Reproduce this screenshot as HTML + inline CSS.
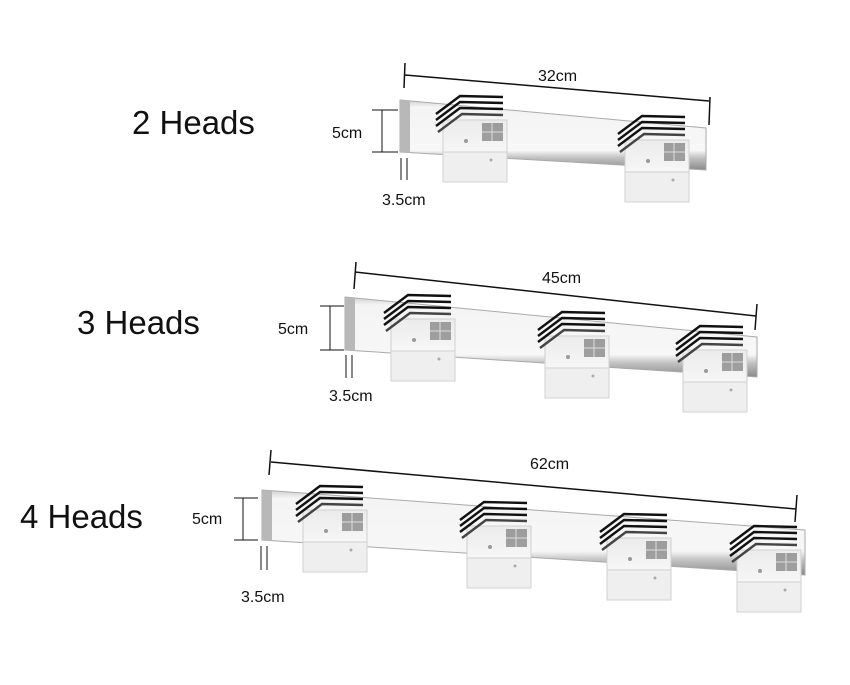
<!DOCTYPE html>
<html><head><meta charset="utf-8"><style>
html,body{margin:0;padding:0;background:#fff;}
svg text{font-family:"Liberation Sans",Arial,sans-serif;fill:#111;}
</style></head><body>
<svg width="850" height="680" viewBox="0 0 850 680" xmlns="http://www.w3.org/2000/svg">
<defs>
<linearGradient id="bar" x1="0" y1="0" x2="0" y2="1">
<stop offset="0" stop-color="#cfcfcf"/><stop offset="0.1" stop-color="#f4f4f4"/><stop offset="0.72" stop-color="#f7f7f7"/><stop offset="0.82" stop-color="#c4c4c4"/><stop offset="1" stop-color="#8a8a8a"/>
</linearGradient>
<linearGradient id="glass" x1="0" y1="0" x2="0" y2="1">
<stop offset="0" stop-color="#ebebeb"/><stop offset="0.5" stop-color="#f6f6f6"/><stop offset="1" stop-color="#e2e2e2"/>
</linearGradient>
<g id="head">
<rect x="7" y="24" width="64" height="62" fill="url(#glass)" stroke="#d0d0d0"/>
<rect x="7" y="56" width="64" height="30" fill="#efefef" stroke="#d0d0d0"/>
<rect x="46" y="27" width="21" height="18" fill="#7a7a7a" opacity="0.7"/>
<line x1="56" y1="27" x2="56" y2="45" stroke="#ddd"/>
<line x1="46" y1="36" x2="67" y2="36" stroke="#ddd"/>
<circle cx="30" cy="45" r="2" fill="#999"/><circle cx="55" cy="64" r="1.5" fill="#aaa"/>
<g fill="none" stroke="#111" stroke-width="2.4">
<path d="M0,30 L24,12 L67,13"/><path d="M0,24 L24,6 L67,7"/><path d="M0,18 L24,0 L67,1"/><path d="M2,36 L26,18 L67,19" stroke="#444"/>
</g>
</g>
</defs>

<!-- 2 heads -->
<text x="132" y="134" font-size="33">2 Heads</text>
<polygon points="400,100 706,128 706,170 400,152" fill="url(#bar)" stroke="#aaa"/>
<polygon points="400,100 410,101 410,153 400,152" fill="#b8b8b8"/>
<line x1="405" y1="75" x2="709" y2="101" stroke="#111" stroke-width="1.5"/>
<line x1="405" y1="63" x2="404" y2="88" stroke="#111" stroke-width="1.5"/>
<line x1="710" y1="97" x2="709" y2="125" stroke="#111" stroke-width="1.5"/>
<text x="538" y="81" font-size="16">32cm</text>
<line x1="382" y1="110" x2="382" y2="152" stroke="#111"/><line x1="372" y1="110" x2="398" y2="110" stroke="#111"/><line x1="372" y1="152" x2="398" y2="152" stroke="#111"/>
<text x="332" y="138" font-size="16">5cm</text>
<line x1="401" y1="158" x2="401" y2="180" stroke="#111"/><line x1="407" y1="158" x2="407" y2="180" stroke="#111"/>
<text x="382" y="205" font-size="16">3.5cm</text>
<use href="#head" x="436" y="96"/>
<use href="#head" x="618" y="116"/>

<!-- 3 heads -->
<text x="77" y="334" font-size="33">3 Heads</text>
<polygon points="345,297 757,337 757,377 345,350" fill="url(#bar)" stroke="#aaa"/>
<polygon points="345,297 355,298 355,351 345,350" fill="#b8b8b8"/>
<line x1="355" y1="272" x2="756" y2="316" stroke="#111" stroke-width="1.5"/>
<line x1="356" y1="262" x2="354" y2="289" stroke="#111" stroke-width="1.5"/>
<line x1="757" y1="304" x2="755" y2="330" stroke="#111" stroke-width="1.5"/>
<text x="542" y="283" font-size="16">45cm</text>
<line x1="330" y1="306" x2="330" y2="350" stroke="#111"/><line x1="320" y1="306" x2="344" y2="306" stroke="#111"/><line x1="320" y1="350" x2="344" y2="350" stroke="#111"/>
<text x="278" y="334" font-size="16">5cm</text>
<line x1="346" y1="355" x2="346" y2="378" stroke="#111"/><line x1="352" y1="355" x2="352" y2="378" stroke="#111"/>
<text x="329" y="401" font-size="16">3.5cm</text>
<use href="#head" x="384" y="295"/>
<use href="#head" x="538" y="312"/>
<use href="#head" x="676" y="326"/>

<!-- 4 heads -->
<text x="20" y="528" font-size="33">4 Heads</text>
<polygon points="262,490 805,530 805,575 262,540" fill="url(#bar)" stroke="#aaa"/>
<polygon points="262,490 272,491 272,541 262,540" fill="#b8b8b8"/>
<line x1="271" y1="462" x2="796" y2="509" stroke="#111" stroke-width="1.5"/>
<line x1="271" y1="450" x2="269" y2="475" stroke="#111" stroke-width="1.5"/>
<line x1="797" y1="495" x2="795" y2="522" stroke="#111" stroke-width="1.5"/>
<text x="530" y="469" font-size="16">62cm</text>
<line x1="243" y1="498" x2="243" y2="540" stroke="#111"/><line x1="234" y1="498" x2="258" y2="498" stroke="#111"/><line x1="234" y1="540" x2="258" y2="540" stroke="#111"/>
<text x="192" y="524" font-size="16">5cm</text>
<line x1="261" y1="546" x2="261" y2="570" stroke="#111"/><line x1="267" y1="546" x2="267" y2="570" stroke="#111"/>
<text x="241" y="602" font-size="16">3.5cm</text>
<use href="#head" x="296" y="486"/>
<use href="#head" x="460" y="502"/>
<use href="#head" x="600" y="514"/>
<use href="#head" x="730" y="526"/>
</svg>
</body></html>
